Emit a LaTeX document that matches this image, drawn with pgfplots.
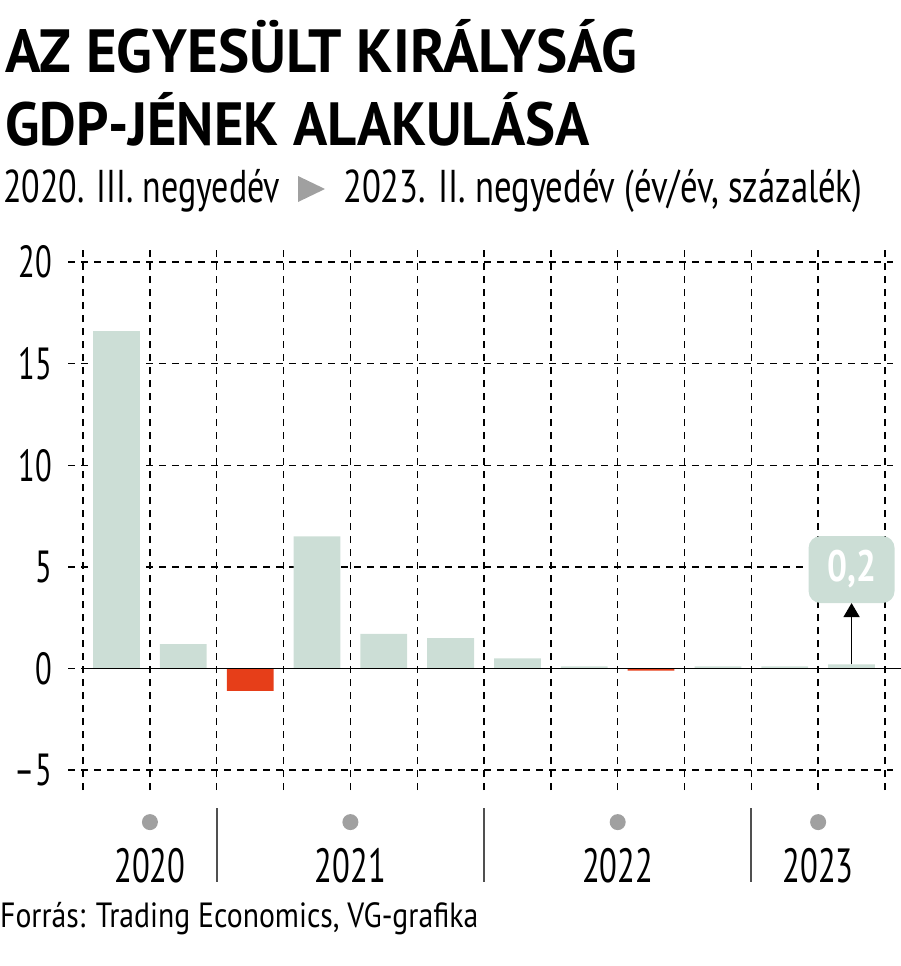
\documentclass[border=0pt]{standalone}
\usepackage{fontspec}
\usepackage{graphicx}
\usepackage{pgfplots}
\pgfplotsset{compat=1.18}
\usetikzlibrary{arrows.meta}
\newfontfamily\cond[FakeStretch=0.68]{PT Sans}
\newfontfamily\condb[FakeStretch=0.8]{PT Sans Bold}
\definecolor{barg}{RGB}{204,222,214}
\definecolor{barr}{RGB}{230,62,25}
\definecolor{dotg}{RGB}{160,160,160}
\definecolor{sepg}{RGB}{80,80,80}
\begin{document}
\begin{tikzpicture}
\path[use as bounding box] (0pt,0pt) rectangle (900pt,-966pt);
% titles
\node[anchor=base west, inner sep=0pt] at (5pt,-73pt) {\resizebox{632pt}{\height}{\condb\fontsize{61pt}{61pt}\selectfont AZ EGYESÜLT KIRÁLYSÁG}};
\node[anchor=base west, inner sep=0pt] at (5pt,-145pt) {\resizebox{585pt}{\height}{\condb\fontsize{61pt}{61pt}\selectfont GDP-JÉNEK ALAKULÁSA}};
\node[anchor=base west, inner sep=0pt] at (3pt,-202pt) {\resizebox{277pt}{\height}{\cond\fontsize{46pt}{46pt}\selectfont 2020. III. negyedév}};
\fill[dotg] (298pt,-176pt) -- (325pt,-189pt) -- (298pt,-202pt) -- cycle;
\node[anchor=base west, inner sep=0pt] at (343pt,-202pt) {\resizebox{519pt}{\height}{\cond\fontsize{46pt}{46pt}\selectfont 2023. II. negyedév (év/év, százalék)}};
\node[anchor=base west, inner sep=0pt] at (0pt,-927pt) {\resizebox{478pt}{\height}{\cond\fontsize{35pt}{35pt}\selectfont Forrás: Trading Economics, VG-grafika}};
\begin{axis}[
  at={(68pt,-790pt)}, anchor=south west,
  scale only axis, width=825pt, height=545pt,
  xmin=-0.726, xmax=11.62, ymin=-5.98, ymax=20.84,
  axis line style={draw=none},
  xtick={-0.5,0.5,...,11.5}, xticklabels={},
  ytick={-5,0,5,10,15,20}, yticklabels={–5,0,5,10,15,20},
  major tick length=0pt,
  grid=major,
  grid style={black, line width=1.4pt, dash pattern=on 7pt off 6pt},
  yticklabel style={font=\cond\fontsize{45pt}{45pt}\selectfont, anchor=east, inner sep=0pt, xshift=-16pt},
  clip=false,
]
\addplot[ybar, bar width=0.7, bar shift=0pt, fill=barg, draw=none] coordinates {
 (0,16.6) (1,1.2) (3,6.5) (4,1.7) (5,1.5) (6,0.5) (7,0.1) (9,0.1) (10,0.1) (11,0.2)};
\addplot[ybar, bar width=0.7, bar shift=0pt, fill=barr, draw=none] coordinates {
 (2,-1.1) (8,-0.1)};
\draw[black, line width=1.8pt] (axis cs:-0.5,0) -- (axis cs:11.75,0);
\draw[black, line width=1.5pt, -{Triangle[width=16pt,length=14pt]}] (axis cs:11,0.2) -- (axis cs:11,3.22);
\node[fill=barg, rounded corners=12pt, minimum width=86pt, minimum height=67pt, inner sep=0pt, text=white, font=\condb\fontsize{44pt}{44pt}\selectfont] at (axis cs:11,4.87) {0,2};
% year markers
\pgfplotsinvokeforeach{0.5,3.5,7.5,10.5}{\fill[dotg] (axis cs:#1,-7.56) circle[radius=8pt];}
\pgfplotsinvokeforeach{1.5,5.5,9.5}{\draw[sepg, line width=2pt] (axis cs:#1,-6.87) -- (axis cs:#1,-10.51);}
\node[anchor=base, inner sep=0pt, font=\cond\fontsize{48pt}{48pt}\selectfont] at (axis cs:0.5,-10.51) {2020};
\node[anchor=base, inner sep=0pt, font=\cond\fontsize{48pt}{48pt}\selectfont] at (axis cs:3.5,-10.51) {2021};
\node[anchor=base, inner sep=0pt, font=\cond\fontsize{48pt}{48pt}\selectfont] at (axis cs:7.5,-10.51) {2022};
\node[anchor=base, inner sep=0pt, font=\cond\fontsize{48pt}{48pt}\selectfont] at (axis cs:10.5,-10.51) {2023};
\end{axis}
\end{tikzpicture}
\end{document}
